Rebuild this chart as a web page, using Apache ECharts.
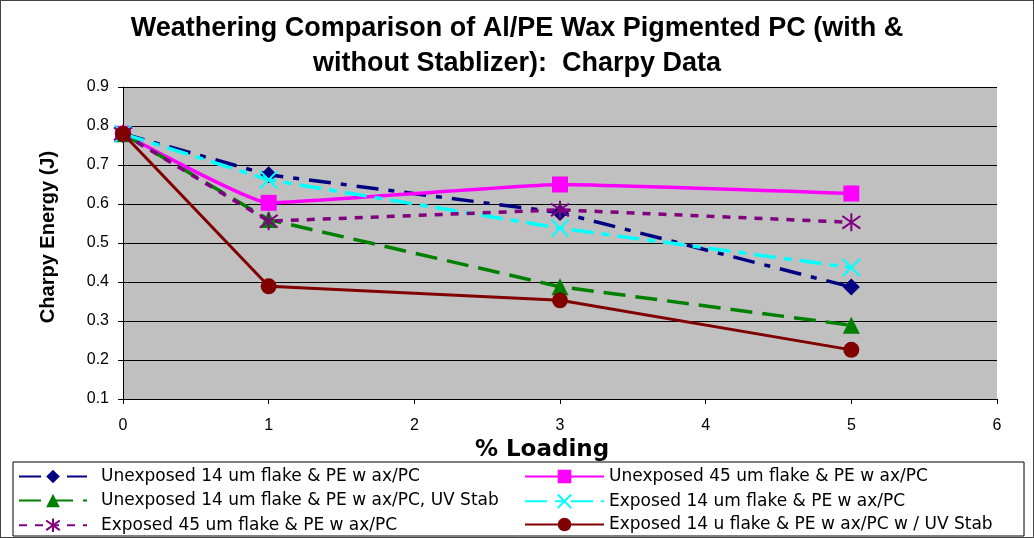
<!DOCTYPE html>
<html>
<head>
<meta charset="utf-8">
<script src="https://cdn.jsdelivr.net/npm/echarts@6/dist/echarts.min.js"></script>
<style>
  html, body { margin: 0; padding: 0; background: #fff; }
  #chart { width: 1034px; height: 538px; box-sizing: border-box; border: 1px solid #444; }
</style>
</head>
<body>
<div id="chart"></div>
<script>
// % loading of flake pigment
const loading = [0, 1, 3, 5];

// Charpy impact energy (J) per formulation
const unexposed14 = [0.78, 0.675, 0.578, 0.387];
const unexposed45 = [0.78, 0.603, 0.650, 0.627];
const unexposed14UV = [0.78, 0.560, 0.388, 0.289];
const exposed14 = [0.78, 0.662, 0.538, 0.437];
const exposed45 = [0.78, 0.556, 0.585, 0.553];
const exposed14UV = [0.78, 0.389, 0.353, 0.226];

const seriesNames = [
  'Unexposed 14 um flake & PE w ax/PC',
  'Unexposed 45 um flake & PE w ax/PC',
  'Unexposed 14 um flake & PE w ax/PC, UV Stab',
  'Exposed 14 um flake & PE w ax/PC',
  'Exposed 45 um flake & PE w ax/PC',
  'Exposed 14 u flake & PE w ax/PC w / UV Stab'
];

const FONT = 'Liberation Sans, Arial, sans-serif';
const WIDE = 'DejaVu Sans, Verdana, sans-serif';
const xSymbol = 'path://M0,0L10,10M10,0L0,10';
const starSymbol = 'path://M5,0L5,10M0,1.5L10,8.5M10,1.5L0,8.5';

function pts(arr) { return loading.map((x, i) => [x, arr[i]]); }

const styles = [
  { data: unexposed14, color: '#000080', type: [22, 10, 6, 10], symbol: 'diamond', size: 17, width: 3.5 },
  { data: unexposed45, color: '#FF00FF', type: 'solid', symbol: 'rect', size: 16, width: 3.5, smooth: 0.12 },
  { data: unexposed14UV, color: '#008000', type: [22, 10], symbol: 'triangle', size: 17, width: 3.5 },
  { data: exposed14, color: '#00FFFF', type: [22, 8, 8, 8], symbol: xSymbol, size: 17, width: 3.5, stroke: true },
  { data: exposed45, color: '#800080', type: [8, 8], symbol: starSymbol, size: 18, width: 3.5, stroke: true },
  { data: exposed14UV, color: '#800000', type: 'solid', symbol: 'circle', size: 16, width: 3 }
];

const series = styles.map((s, i) => ({
  name: seriesNames[i],
  type: 'line',
  data: pts(s.data),
  smooth: s.smooth || false,
  symbol: s.symbol,
  symbolSize: s.size,
  showAllSymbol: true,
  lineStyle: { color: s.color, width: s.width, type: s.type },
  itemStyle: s.stroke
    ? { color: 'none', borderColor: s.color, borderWidth: 2 }
    : { color: s.color, borderColor: s.color, borderWidth: 0 },
  emphasis: { disabled: true },
  animation: false,
  z: 2 + i
}));

// Legend laid out in two columns, three rows
const legendPos = [
  { left: 17, top: 467, w: 68, pad: 9 },
  { left: 523, top: 467, w: 79, pad: 0 },
  { left: 17, top: 491, w: 68, pad: 9 },
  { left: 523, top: 491, w: 79, pad: 0 },
  { left: 17, top: 515, w: 68, pad: 9 },
  { left: 523, top: 515, w: 79, pad: 0 }
];

const legends = seriesNames.map((n, i) => ({
  data: [n],
  left: legendPos[i].left,
  top: legendPos[i].top,
  itemWidth: legendPos[i].w,
  itemHeight: 17,
  itemGap: 0,
  padding: 0,
  selectedMode: false,
  textStyle: { fontFamily: WIDE, fontSize: 17, color: '#000', padding: [0, 0, 0, legendPos[i].pad] }
}));

const chart = echarts.init(document.getElementById('chart'), null, { renderer: 'canvas' });
chart.setOption({
  animation: false,
  backgroundColor: '#fff',
  title: {
    text: 'Weathering Comparison of Al/PE Wax Pigmented PC (with &\nwithout Stablizer):  Charpy Data',
    left: 'center',
    top: 5,
    textStyle: {
      fontFamily: FONT,
      fontSize: 27,
      fontWeight: 'bold',
      lineHeight: 35,
      color: '#000'
    }
  },
  grid: { left: 122, right: 36, top: 86, bottom: 138, show: true, backgroundColor: '#C0C0C0', borderWidth: 0 },
  xAxis: {
    type: 'value',
    min: 0, max: 6, interval: 1,
    name: '% Loading',
    nameLocation: 'middle',
    nameGap: 40,
    nameTextStyle: { fontFamily: WIDE, fontSize: 23, fontWeight: 'bold', color: '#000', padding: [0, 36, 0, 0] },
    axisLine: { onZero: false, lineStyle: { color: '#000', width: 1 } },
    axisTick: { show: true, length: 5, lineStyle: { color: '#000' } },
    axisLabel: { fontFamily: FONT, fontSize: 16, color: '#000', margin: 19 },
    splitLine: { show: false }
  },
  yAxis: {
    type: 'value',
    min: 0.1, max: 0.9, interval: 0.1,
    name: 'Charpy Energy (J)',
    nameLocation: 'middle',
    nameGap: 65,
    nameTextStyle: { fontFamily: FONT, fontSize: 20, fontWeight: 'bold', color: '#000', padding: [0, 0, 0, 12] },
    axisLine: { show: true, lineStyle: { color: '#000', width: 1 } },
    axisTick: { show: true, length: 5, lineStyle: { color: '#000' } },
    axisLabel: { fontFamily: FONT, fontSize: 16, color: '#000', margin: 14, formatter: v => v.toFixed(1) },
    splitLine: { show: true, lineStyle: { color: '#000', width: 1 } }
  },
  legend: legends,
  graphic: [{
    type: 'rect',
    shape: { x: 12, y: 461, width: 1011, height: 74 },
    style: { fill: 'none', stroke: '#000', lineWidth: 1 },
    z: -1
  }],
  series: series
});
</script>
</body>
</html>
